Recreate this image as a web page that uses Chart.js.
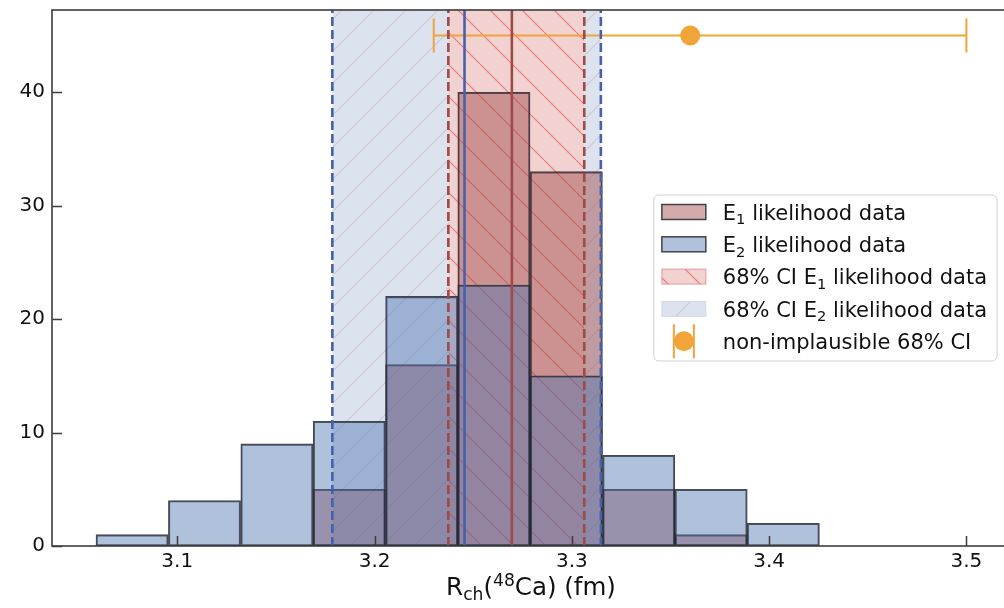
<!DOCTYPE html>
<html>
<head>
<meta charset="utf-8">
<title>Charge radius of 48Ca</title>
<script src="https://cdn.jsdelivr.net/npm/chart.js@4.4.1/dist/chart.umd.min.js"></script>
<style>
  html, body { margin: 0; padding: 0; background: #fff; overflow: hidden; }
  #wrap { position: relative; width: 1004px; height: 608px; overflow: hidden; }
  #chart { position: absolute; left: 0; top: 0; }
</style>
</head>
<body>
<div id="wrap"><canvas id="chart" width="1012" height="608"></canvas></div>
<script>
// histogram bins (centres in fm) and counts for the two likelihoods
var binCenters = [3.0771, 3.1138, 3.1505, 3.1872, 3.2239, 3.2605, 3.2972, 3.3339, 3.3706, 3.4072];
var countsE1 = [0, 0, 0, 5, 16, 40, 33, 5, 1, 0];
var countsE2 = [1, 4, 9, 11, 22, 23, 15, 8, 5, 2];

// 68% credible intervals + medians
var ciE1 = [3.2374, 3.3063];
var medianE1 = 3.2696;
var ciE2 = [3.1786, 3.3147];
var medianE2 = 3.2456;

// non-implausible 68% interval (error bar near the top)
var nonImplCenter = 3.36;
var nonImplRange = [3.23, 3.50];
var nonImplLevel = 45;
var capHalf = 1.5;

var xTicks = [3.1, 3.2, 3.3, 3.4, 3.5];
var yTicks = [0, 10, 20, 30, 40];
var xRange = [3.0365, 3.5221];
var yMax = 47.25;

var legendLabels = [
  [{t: 'E'}, {t: '1', sub: true}, {t: ' likelihood data'}],
  [{t: 'E'}, {t: '2', sub: true}, {t: ' likelihood data'}],
  [{t: '68% CI E'}, {t: '1', sub: true}, {t: ' likelihood data'}],
  [{t: '68% CI E'}, {t: '2', sub: true}, {t: ' likelihood data'}],
  [{t: 'non-implausible 68% CI'}]
];
var xTitle = [{t: 'R'}, {t: 'ch', sub: true}, {t: '('}, {t: '48', sup: true}, {t: 'Ca) (fm)'}];

var FONT = "'DejaVu Sans', sans-serif";
var blueBar = 'rgba(76,114,176,0.44)';
var redBar = 'rgba(160,72,72,0.46)';
var barEdge = 'rgba(40,40,48,0.85)';
var blueLine = '#4561ab';
var redLine = '#9c4a4a';
var orange = '#f0a43a';

var canvas = document.getElementById('chart');
var mainCtx = canvas.getContext('2d');

function hatch(bg, line, dir, size) {
  var c = document.createElement('canvas');
  c.width = size; c.height = size;
  var g = c.getContext('2d');
  g.fillStyle = bg;
  g.fillRect(0, 0, size, size);
  g.strokeStyle = line;
  g.lineWidth = 1.1;
  g.beginPath();
  for (var k = -1; k <= 1; k++) {
    if (dir === '\\') { g.moveTo(k * size, 0); g.lineTo(k * size + size, size); }
    else { g.moveTo(k * size, size); g.lineTo(k * size + size, 0); }
  }
  g.stroke();
  return mainCtx.createPattern(c, 'repeat');
}

var redHatch = hatch('rgb(242,209,209)', 'rgba(226,96,96,0.75)', '\\', 32);
var blueHatch = hatch('rgb(220,227,239)', 'rgba(185,160,160,0.4)', '/', 32);

function bars(counts, fill, order) {
  return {
    type: 'bar',
    data: binCenters.map(function (x, i) { return {x: x, y: counts[i] || null}; }),
    backgroundColor: fill,
    borderColor: barEdge,
    borderWidth: 1.4,
    borderSkipped: false,
    barPercentage: 1,
    categoryPercentage: 1,
    grouped: false,
    order: order
  };
}

function span(ci, fill, order) {
  return {
    type: 'line',
    data: [{x: ci[0], y: yMax}, {x: ci[1], y: yMax}],
    fill: 'origin',
    backgroundColor: fill,
    borderColor: 'rgba(0,0,0,0)',
    borderWidth: 0,
    pointRadius: 0,
    order: order
  };
}

function vline(x, color, dash) {
  return {
    type: 'line',
    data: [{x: x, y: 0}, {x: x, y: yMax}],
    borderColor: color,
    borderWidth: 2.6,
    borderDash: dash || [],
    pointRadius: 0,
    fill: false,
    order: 0
  };
}

function seg(p, q, width) {
  return {
    type: 'line',
    data: [p, q],
    borderColor: orange,
    borderWidth: width,
    pointRadius: 0,
    fill: false,
    order: 0
  };
}

var datasets = [
  span(ciE2, blueHatch, 4),
  span(ciE1, redHatch, 3),
  bars(countsE1, redBar, 2),
  bars(countsE2, blueBar, 1),
  vline(ciE2[0], blueLine, [9, 4]),
  vline(ciE2[1], blueLine, [9, 4]),
  vline(medianE2, blueLine),
  vline(ciE1[0], redLine, [9, 4]),
  vline(ciE1[1], redLine, [9, 4]),
  vline(medianE1, redLine),
  seg({x: nonImplRange[0], y: nonImplLevel}, {x: nonImplRange[1], y: nonImplLevel}, 2.2),
  seg({x: nonImplRange[0], y: nonImplLevel - capHalf}, {x: nonImplRange[0], y: nonImplLevel + capHalf}, 2),
  seg({x: nonImplRange[1], y: nonImplLevel - capHalf}, {x: nonImplRange[1], y: nonImplLevel + capHalf}, 2),
  {
    type: 'scatter',
    data: [{x: nonImplCenter, y: nonImplLevel}],
    backgroundColor: orange,
    borderColor: orange,
    borderWidth: 0,
    pointRadius: 10,
    order: -1
  }
];

// text with sub/superscripts, the way mathtext sets it
function drawRich(ctx, parts, x, y, size, align) {
  var widths = parts.map(function (p) {
    ctx.font = ((p.sub || p.sup) ? size * 0.7 : size) + 'px ' + FONT;
    return ctx.measureText(p.t).width;
  });
  var total = widths.reduce(function (a, b) { return a + b; }, 0);
  var cx = align === 'center' ? x - total / 2 : x;
  ctx.textAlign = 'left';
  ctx.textBaseline = 'alphabetic';
  parts.forEach(function (p, i) {
    ctx.font = ((p.sub || p.sup) ? size * 0.7 : size) + 'px ' + FONT;
    var dy = p.sub ? size * 0.22 : (p.sup ? -size * 0.36 : 0);
    ctx.fillText(p.t, cx, y + dy);
    cx += widths[i];
  });
  return total;
}

var framePlugin = {
  id: 'frame',
  afterDatasetsDraw: function (chart) {
    var ctx = chart.ctx, a = chart.chartArea;
    var sx = chart.scales.x, sy = chart.scales.y;
    ctx.save();
    ctx.strokeStyle = '#3c3c3c';
    ctx.lineWidth = 1.5;
    ctx.beginPath();
    xTicks.forEach(function (v) {
      var px = Math.round(sx.getPixelForValue(v)) + 0.5;
      ctx.moveTo(px, a.bottom); ctx.lineTo(px, a.bottom - 10);
    });
    yTicks.forEach(function (v) {
      var py = Math.round(sy.getPixelForValue(v)) + 0.5;
      ctx.moveTo(a.left, py); ctx.lineTo(a.left + 10, py);
    });
    ctx.stroke();
    ctx.lineWidth = 1.6;
    ctx.strokeRect(a.left, a.top, a.right - a.left, a.bottom - a.top);
    ctx.restore();
  }
};

var legendPlugin = {
  id: 'ciLegend',
  afterDraw: function (chart) {
    var ctx = chart.ctx, a = chart.chartArea;
    var size = 21, pitch = 32.3, textX = 69;
    ctx.save();
    var maxW = 0;
    legendLabels.forEach(function (parts) {
      var w = 0;
      parts.forEach(function (p) {
        ctx.font = ((p.sub || p.sup) ? size * 0.7 : size) + 'px ' + FONT;
        w += ctx.measureText(p.t).width;
      });
      maxW = Math.max(maxW, w);
    });
    var bw = textX + maxW + 10, bh = 166;
    var bx = a.right - 13 - bw;
    var by = (a.top + a.bottom) / 2 - bh / 2;

    ctx.beginPath();
    ctx.roundRect(bx, by, bw, bh, 5);
    ctx.fillStyle = 'rgba(255,255,255,0.85)';
    ctx.fill();
    ctx.strokeStyle = '#d0d0d0';
    ctx.lineWidth = 1;
    ctx.stroke();

    var px = bx + 8, pw = 44, ph = 15;
    var rows = legendLabels.map(function (_, i) { return by + 17 + i * pitch; });

    function patch(cy, fill, edge, lw) {
      ctx.fillStyle = fill;
      ctx.fillRect(px, cy - ph / 2, pw, ph);
      ctx.strokeStyle = edge;
      ctx.lineWidth = lw;
      ctx.strokeRect(px, cy - ph / 2, pw, ph);
    }
    patch(rows[0], redBar, barEdge, 1.5);
    patch(rows[1], blueBar, barEdge, 1.5);
    patch(rows[2], redHatch, 'rgba(226,120,120,0.6)', 1.2);
    patch(rows[3], blueHatch, 'rgba(200,210,230,0.8)', 1);

    // error bar handle
    var ex = px + pw / 2, ey = rows[4];
    ctx.strokeStyle = orange;
    ctx.lineWidth = 2;
    ctx.beginPath();
    ctx.moveTo(ex - 10, ey - 17); ctx.lineTo(ex - 10, ey + 17);
    ctx.moveTo(ex + 10, ey - 17); ctx.lineTo(ex + 10, ey + 17);
    ctx.moveTo(ex - 10, ey); ctx.lineTo(ex + 10, ey);
    ctx.stroke();
    ctx.fillStyle = orange;
    ctx.beginPath();
    ctx.arc(ex, ey, 10, 0, Math.PI * 2);
    ctx.fill();

    ctx.fillStyle = '#111';
    legendLabels.forEach(function (parts, i) {
      drawRich(ctx, parts, bx + textX, rows[i] + size * 0.365, size, 'left');
    });

    // x axis title
    drawRich(ctx, xTitle, (a.left + a.right) / 2, 595, 24.5, 'center');
    ctx.restore();
  }
};

Chart.defaults.font.family = FONT;

new Chart(canvas, {
  type: 'bar',
  data: {datasets: datasets},
  options: {
    responsive: false,
    animation: false,
    events: [],
    // the right spine sits just past the visible window
    layout: {autoPadding: false, padding: {top: 10, right: 2, left: 0, bottom: 0}},
    plugins: {legend: {display: false}, tooltip: {enabled: false}},
    scales: {
      x: {
        type: 'linear',
        min: xRange[0],
        max: xRange[1],
        offset: false,
        grid: {display: false, drawTicks: false},
        border: {display: false},
        afterBuildTicks: function (s) { s.ticks = xTicks.map(function (v) { return {value: v}; }); },
        afterFit: function (s) { s.height = 62; s.paddingLeft = 0; s.paddingRight = 0; },
        ticks: {
          autoSkip: false,
          maxRotation: 0,
          padding: 4,
          color: '#111',
          font: {size: 20},
          callback: function (v) { return v.toFixed(1); }
        }
      },
      y: {
        type: 'linear',
        min: 0,
        max: yMax,
        grid: {display: false, drawTicks: false},
        border: {display: false},
        afterBuildTicks: function (s) { s.ticks = yTicks.map(function (v) { return {value: v}; }); },
        afterFit: function (s) { s.width = 52; s.paddingTop = 0; s.paddingBottom = 0; },
        ticks: {
          padding: 7,
          color: '#111',
          font: {size: 20},
          callback: function (v) { return String(v); }
        }
      }
    }
  },
  plugins: [framePlugin, legendPlugin]
});
</script>
</body>
</html>
